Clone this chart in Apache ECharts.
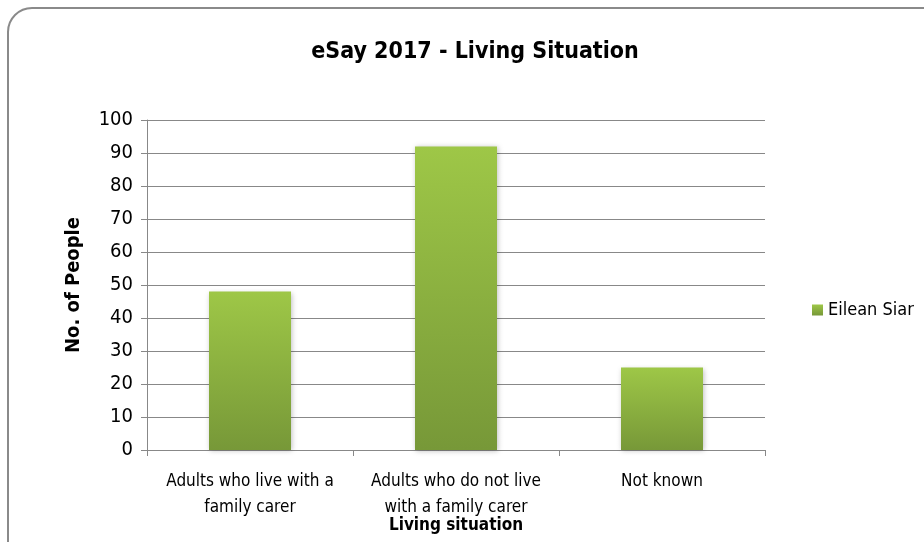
<!DOCTYPE html>
<html>
<head>
<meta charset="utf-8">
<script src="https://cdn.jsdelivr.net/npm/echarts@6/dist/echarts.min.js"></script>
<style>
  html, body { margin: 0; padding: 0; background: #fff; }
  #chart { width: 924px; height: 542px; }
</style>
</head>
<body>
<div id="chart"></div>
<script>
var categories = ["Adults who live with a\nfamily carer", "Adults who do not live\nwith a family carer", "Not known"];
var seriesName = "Eilean Siar";
var values = [48, 92, 25];
var yTicks = { min: 0, max: 100, interval: 10 };

var font = "'Liberation Sans Narrow', 'DejaVu Sans Condensed', sans-serif";

var chart = echarts.init(document.getElementById("chart"));
chart.setOption({
    animation: false,
    textStyle: { fontFamily: font },
    graphic: [{
        type: "rect",
        shape: { x: 8, y: 8, width: 960, height: 580, r: 24 },
        style: { fill: "#fff", stroke: "#8a8a8a", lineWidth: 2 },
        z: -10
    }],
    title: {
        text: "eSay 2017 - Living Situation",
        left: 470,
        textAlign: "center",
        top: 36,
        textStyle: { fontFamily: font, fontSize: 23, fontWeight: "bold", color: "#000" }
    },
    legend: {
        data: [seriesName],
        left: 812,
        top: 301,
        padding: 0,
        icon: "rect",
        itemWidth: 11,
        itemHeight: 11,
        itemGap: 3,
        textStyle: { fontFamily: font, fontSize: 18, color: "#000" }
    },
    grid: { left: 147, right: 159, top: 120, bottom: 92, outerBoundsMode: "none" },
    xAxis: {
        type: "category",
        data: categories,
        name: "Living situation",
        nameLocation: "middle",
        nameGap: 67,
        nameMoveOverlap: false,
        nameTextStyle: { fontFamily: font, fontSize: 17, fontWeight: "bold", color: "#000" },
        axisLine: { lineStyle: { color: "#888", width: 1 } },
        axisTick: { show: true, length: 6, lineStyle: { color: "#888" } },
        axisLabel: { interval: 0, fontFamily: font, fontSize: 17, color: "#000", margin: 19, lineHeight: 26 }
    },
    yAxis: {
        type: "value",
        min: yTicks.min,
        max: yTicks.max,
        interval: yTicks.interval,
        name: "No. of People",
        nameLocation: "middle",
        nameGap: 63,
        nameMoveOverlap: false,
        nameTextStyle: { fontFamily: font, fontSize: 20, fontWeight: "bold", color: "#000" },
        axisLine: { show: true, lineStyle: { color: "#888" } },
        axisTick: { show: true, length: 6, lineStyle: { color: "#888" } },
        axisLabel: { fontFamily: font, fontSize: 20, color: "#000", margin: 14 },
        splitLine: { lineStyle: { color: "#888", width: 1 } }
    },
    series: [{
        name: seriesName,
        type: "bar",
        data: values,
        barWidth: 82,
        itemStyle: {
            color: new echarts.graphic.LinearGradient(0, 0, 0, 1, [
                { offset: 0, color: "#9ec747" },
                { offset: 1, color: "#779838" }
            ]),
            shadowColor: "rgba(0,0,0,0.25)",
            shadowBlur: 5,
            shadowOffsetX: 1,
            shadowOffsetY: 1
        }
    }]
});
</script>
</body>
</html>
